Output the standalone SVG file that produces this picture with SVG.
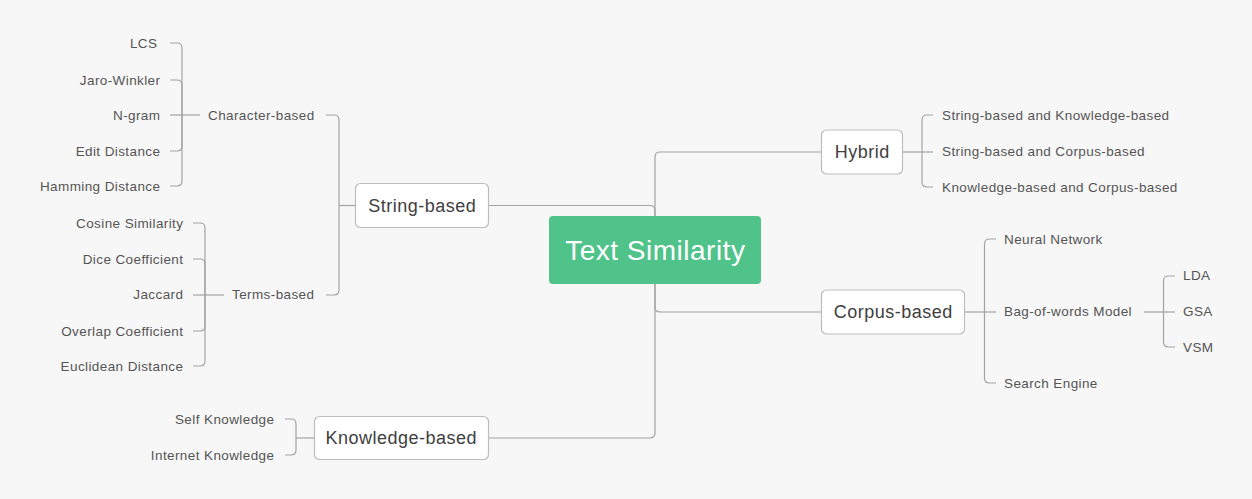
<svg xmlns="http://www.w3.org/2000/svg" width="1252" height="499" viewBox="0 0 1252 499">
<style>
.bg{fill:#f7f7f7}
.c{fill:none;stroke:#a3a3a3;stroke-width:1.2}
.box{fill:#ffffff;stroke:#bdbdbd;stroke-width:1.2}
.bt{font-family:"Liberation Sans",Arial,sans-serif;font-size:18px;letter-spacing:0.5px;fill:#404040;text-anchor:middle}
.t{font-family:"Liberation Sans",Arial,sans-serif;font-size:13.5px;letter-spacing:0.4px;fill:#555555}
.e{text-anchor:end}
.root{fill:#50c38b}
.rt{font-family:"Liberation Sans",Arial,sans-serif;font-size:28px;letter-spacing:0.5px;fill:#ffffff;text-anchor:middle}
</style>
<rect class="bg" x="0" y="0" width="1252" height="499"/>
<g id="connectors">
<path class="c" d="M489,205.5 H650 Q655,205.5 655,210.5 V216"/>
<path class="c" d="M655,216 V157 Q655,152 660,152 H821"/>
<path class="c" d="M655,284 V307 Q655,312 660,312 H821"/>
<path class="c" d="M655,284 V433 Q655,438 650,438 H488"/>
<path class="c" d="M355,205.5 H339"/>
<path class="c" d="M339,205.5 V120 Q339,115 334,115 H326"/>
<path class="c" d="M339,205.5 V290 Q339,295 334,295 H326"/>
<path class="c" d="M200,115 H170"/>
<path class="c" d="M182,115 V48 Q182,43 177,43 H170"/>
<path class="c" d="M182,115 V85 Q182,80 177,80 H170"/>
<path class="c" d="M182,115 V146 Q182,151 177,151 H170"/>
<path class="c" d="M182,115 V181 Q182,186 177,186 H170"/>
<path class="c" d="M224,295 H193"/>
<path class="c" d="M205,295 V228 Q205,223 200,223 H193"/>
<path class="c" d="M205,295 V264 Q205,259 200,259 H193"/>
<path class="c" d="M205,295 V326 Q205,331 200,331 H193"/>
<path class="c" d="M205,295 V361 Q205,366 200,366 H193"/>
<path class="c" d="M314,438 H296"/>
<path class="c" d="M296,438 V424 Q296,419 291,419 H285"/>
<path class="c" d="M296,438 V450 Q296,455 291,455 H285"/>
<path class="c" d="M903,152 H933"/>
<path class="c" d="M922,152 V120 Q922,115 927,115 H933"/>
<path class="c" d="M922,152 V182 Q922,187 927,187 H933"/>
<path class="c" d="M965,312 H996"/>
<path class="c" d="M984.5,312 V244 Q984.5,239 989.5,239 H996"/>
<path class="c" d="M984.5,312 V378 Q984.5,383 989.5,383 H996"/>
<path class="c" d="M1144,312 H1175"/>
<path class="c" d="M1163.5,312 V281 Q1163.5,276 1168.5,276 H1175"/>
<path class="c" d="M1163.5,312 V342 Q1163.5,347 1168.5,347 H1175"/>
</g>
<g id="root">
<rect class="root" x="549" y="216" width="212" height="68" rx="4"/>
<text class="rt" x="655.3" y="260">Text Similarity</text>
</g>
<g id="string-based">
<rect class="box" x="355.5" y="183.5" width="133" height="44" rx="5"/>
<text class="bt" x="422.3" y="212">String-based</text>
</g>
<g id="knowledge-based">
<rect class="box" x="314.5" y="416.5" width="174" height="43" rx="5"/>
<text class="bt" x="401.3" y="444">Knowledge-based</text>
</g>
<g id="hybrid">
<rect class="box" x="821.5" y="130" width="81" height="44" rx="5"/>
<text class="bt" x="862.3" y="158">Hybrid</text>
</g>
<g id="corpus-based">
<rect class="box" x="821.5" y="290" width="143" height="44" rx="5"/>
<text class="bt" x="893.3" y="318">Corpus-based</text>
</g>
<g id="character-based"><text class="t" x="208" y="119.5">Character-based</text></g>
<g id="terms-based"><text class="t" x="232" y="299">Terms-based</text></g>
<g id="lcs"><text class="t e" x="157.4" y="47.5">LCS</text></g>
<g id="jaro-winkler"><text class="t e" x="160.4" y="84.5">Jaro-Winkler</text></g>
<g id="n-gram"><text class="t e" x="160.4" y="119.5">N-gram</text></g>
<g id="edit-distance"><text class="t e" x="160.4" y="155.5">Edit Distance</text></g>
<g id="hamming-distance"><text class="t e" x="160.4" y="190.5">Hamming Distance</text></g>
<g id="cosine"><text class="t e" x="183.4" y="227.5">Cosine Similarity</text></g>
<g id="dice"><text class="t e" x="183.4" y="263.5">Dice Coefficient</text></g>
<g id="jaccard"><text class="t e" x="183.4" y="299">Jaccard</text></g>
<g id="overlap"><text class="t e" x="183.4" y="335.5">Overlap Coefficient</text></g>
<g id="euclidean"><text class="t e" x="183.4" y="371">Euclidean Distance</text></g>
<g id="self-knowledge"><text class="t e" x="274.4" y="424">Self Knowledge</text></g>
<g id="internet-knowledge"><text class="t e" x="274.4" y="460">Internet Knowledge</text></g>
<g id="sk"><text class="t" x="942" y="119.5">String-based and Knowledge-based</text></g>
<g id="sc"><text class="t" x="942" y="155.5">String-based and Corpus-based</text></g>
<g id="kc"><text class="t" x="942" y="191.5">Knowledge-based and Corpus-based</text></g>
<g id="neural-network"><text class="t" x="1004" y="243.5">Neural Network</text></g>
<g id="bag-of-words"><text class="t" x="1004" y="316">Bag-of-words Model</text></g>
<g id="search-engine"><text class="t" x="1004" y="387.5">Search Engine</text></g>
<g id="lda"><text class="t" x="1183" y="280">LDA</text></g>
<g id="gsa"><text class="t" x="1183" y="316">GSA</text></g>
<g id="vsm"><text class="t" x="1183" y="351.5">VSM</text></g>
</svg>
